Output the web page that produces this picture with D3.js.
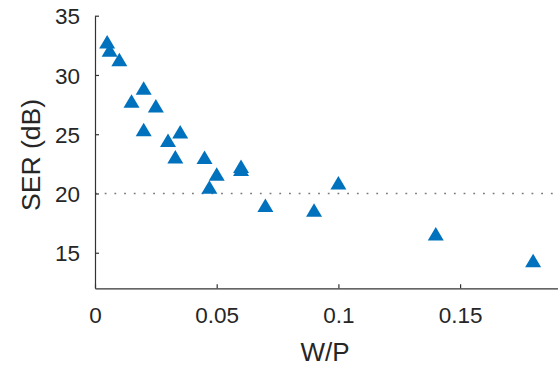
<!DOCTYPE html>
<html>
<head>
<meta charset="utf-8">
<script src="https://cdn.jsdelivr.net/npm/d3@7"></script>
<style>
  body { margin: 0; background: #fff; }
  text { font-family: "Liberation Sans", Arial, sans-serif; fill: #262626; }
</style>
</head>
<body>
<svg id="chart" width="558" height="367"></svg>
<script>
// values
let wp  = [0.005, 0.006, 0.01, 0.02, 0.015, 0.025, 0.02, 0.035, 0.03, 0.033, 0.045, 0.05, 0.047, 0.06, 0.06, 0.07, 0.09, 0.1, 0.14, 0.18];
let ser = [32.8, 32.1, 31.3, 28.9, 27.8, 27.4, 25.4, 25.2, 24.5, 23.1, 23.05, 21.65, 20.55, 22.3, 22.05, 19.0, 18.6, 20.9, 16.6, 14.35];
let xTicks = [0, 0.05, 0.1, 0.15];
let yTicks = [15, 20, 25, 30, 35];
let refLevel = 20;

let svg = d3.select("#chart");
let plotLeft = 95, plotRight = 557, plotTop = 15.7, plotBottom = 288.3;

let xScale = d3.scaleLinear().domain([0, 0.19]).range([plotLeft, plotLeft + 0.19 * (121.7 / 0.05)]);
let yScale = d3.scaleLinear().domain([12, 35]).range([plotBottom, plotTop]);

let sequence = wp.map((x, i) => ({x: x, y: ser[i]}));

// dotted reference line
svg.append("line")
  .attr("x1", plotLeft).attr("x2", plotRight)
  .attr("y1", yScale(refLevel)).attr("y2", yScale(refLevel))
  .attr("stroke", "#7a7a7a")
  .attr("stroke-width", 1.5)
  .attr("stroke-dasharray", "1.8,7.9");

// axes, ticks inside
let xAxis = d3.axisBottom(xScale).tickValues(xTicks).tickSizeInner(-4).tickSizeOuter(0)
  .tickFormat(d => d === 0 ? "0" : String(d));
let yAxis = d3.axisLeft(yScale).tickValues(yTicks).tickSizeInner(-4).tickSizeOuter(0);

let gx = svg.append("g")
  .attr("transform", "translate(0," + plotBottom + ")")
  .call(xAxis);
let gy = svg.append("g")
  .attr("transform", "translate(" + plotLeft + ",0)")
  .call(yAxis);

[gx, gy].forEach(g => {
  g.select(".domain").attr("stroke", "#333").attr("stroke-width", 1.2);
  g.selectAll(".tick line").attr("stroke", "#333").attr("stroke-width", 1.2);
  g.selectAll(".tick text").attr("font-size", 22.5).attr("fill", "#262626")
    .style("font-family", "'Liberation Sans', Arial, sans-serif");
});
gx.selectAll(".tick text").attr("y", 35).attr("dy", 0);
gy.selectAll(".tick text").attr("x", -15).attr("dy", "0.36em");

// axis labels
svg.append("text")
  .attr("x", 325).attr("y", 361)
  .attr("text-anchor", "middle").attr("font-size", 26)
  .text("W/P");
svg.append("text")
  .attr("transform", "translate(40,155) rotate(-90)")
  .attr("text-anchor", "middle").attr("font-size", 26.5)
  .text("SER (dB)");

// triangle markers
let w = 16, h = 13.5;
svg.selectAll(".tri")
  .data(sequence)
  .enter()
  .append("path")
  .attr("class", "tri")
  .attr("d", "M0," + (-h / 2) + "L" + (w / 2) + "," + (h / 2) + "L" + (-w / 2) + "," + (h / 2) + "Z")
  .attr("transform", d => "translate(" + xScale(d.x) + "," + yScale(d.y) + ")")
  .attr("fill", "#0072BD");
</script>
</body>
</html>
